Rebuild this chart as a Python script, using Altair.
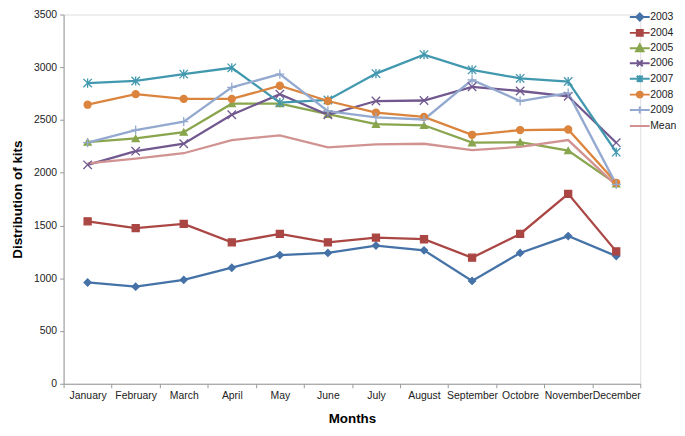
import altair as alt
import pandas as pd

months = ["January", "February", "March", "April", "May", "June", "July",
          "August", "September", "Octobre", "November", "December"]
series = ["2003", "2004", "2005", "2006", "2007", "2008", "2009", "Mean"]

y2003 = [960, 920, 985, 1100, 1220, 1240, 1310, 1265, 975, 1240, 1400, 1210]
y2004 = [1540, 1475, 1515, 1340, 1420, 1340, 1385, 1370, 1195, 1420, 1800, 1255]
y2005 = [2290, 2325, 2385, 2655, 2655, 2555, 2460, 2450, 2285, 2290, 2210, 1895]
y2006 = [2075, 2205, 2275, 2550, 2745, 2550, 2680, 2685, 2815, 2775, 2725, 2285]
y2007 = [2850, 2870, 2935, 2995, 2665, 2690, 2940, 3120, 2975, 2895, 2865, 2195]
y2008 = [2645, 2745, 2700, 2700, 2825, 2680, 2570, 2530, 2360, 2405, 2410, 1905]
y2009 = [2285, 2405, 2485, 2810, 2935, 2585, 2525, 2505, 2880, 2680, 2755, 1890]
ymean = [2090, 2135, 2185, 2310, 2355, 2240, 2270, 2275, 2215, 2245, 2310, 1880]

colors = ["#4572A7", "#AA4643", "#89A54E", "#71588F", "#4198AF", "#DB843D", "#93A9CF", "#D19392"]

# marker shapes drawn on the lines
marker_paths = [
    "diamond",
    "square",
    "triangle-up",
    "M-1.2,-1.2L1.2,1.2M-1.2,1.2L1.2,-1.2",
    "M-1.2,-1.2L1.2,1.2M-1.2,1.2L1.2,-1.2M0,-1.3L0,1.3",
    "circle",
    "M-1.3,0L1.3,0M0,-1.3L0,1.3",
    "M0,0",
]
# legend symbols: a line segment with the marker on it (solid markers built from strokes)
LN = "M-1.54,0L1.54,0"
legend_paths = [
    LN + "M-0.54,0L0,-0.54L0.54,0L0,0.54ZM-0.18,0L0,-0.18L0.18,0L0,0.18Z",
    LN + "M-0.46,-0.46L0.46,-0.46L0.46,0.46L-0.46,0.46ZM-0.15,-0.15L0.15,-0.15L0.15,0.15L-0.15,0.15Z",
    LN + "M0,-0.62L0.58,0.46L-0.58,0.46ZM0,-0.14L0.19,0.22L-0.19,0.22ZM0,-0.4L0,0.4",
    LN + "M-0.46,-0.46L0.46,0.46M-0.46,0.46L0.46,-0.46",
    LN + "M-0.46,-0.46L0.46,0.46M-0.46,0.46L0.46,-0.46M0,-0.54L0,0.54",
    LN + "M-0.46,0A0.46,0.46,0,1,1,0.46,0A0.46,0.46,0,1,1,-0.46,0ZM-0.15,0A0.15,0.15,0,1,1,0.15,0A0.15,0.15,0,1,1,-0.15,0Z",
    LN + "M0,-0.54L0,0.54",
    LN,
]

values = [y2003, y2004, y2005, y2006, y2007, y2008, y2009, ymean]
rows = []
for s, vals in zip(series, values):
    for m, v in zip(months, vals):
        rows.append({"Month": m, "Series": s, "Value": v})
df = pd.DataFrame(rows)

x_enc = alt.X("Month:N", sort=months,
              scale=alt.Scale(type="band", paddingInner=0, paddingOuter=0),
              axis=alt.Axis(title="Months", tickBand="extent", labelAngle=0,
                            labelOverlap=False, labelFontSize=10.5, labelPadding=3,
                            labelFont="Liberation Sans", labelColor="#222222",
                            tickColor="#999999", domainColor="#999999", tickSize=4,
                            titleFont="Liberation Sans", titleFontWeight="bold",
                            titleFontSize=13.5, titlePadding=11, titleColor="#000000",
                            grid=False))
y_enc = alt.Y("Value:Q", scale=alt.Scale(domain=[0, 3500]),
              axis=alt.Axis(title="Distribution of kits", values=list(range(0, 3501, 500)),
                            format="d", labelFontSize=10.5, labelFont="Liberation Sans",
                            labelColor="#222222", tickColor="#999999", labelPadding=3,
                            domainColor="#999999", tickSize=4, grid=False,
                            titleFont="Liberation Sans", titleFontWeight="bold",
                            titleFontSize=13.5, titlePadding=9, titleColor="#000000"))

stroke_scale = alt.Scale(domain=series, range=colors)

lines = alt.Chart(df).mark_line(strokeWidth=2.3).encode(
    x=x_enc, y=y_enc,
    stroke=alt.Stroke("Series:N", scale=stroke_scale, legend=None),
    detail="Series:N",
)

points = alt.Chart(df).transform_filter(alt.datum.Series != "Mean").mark_point(
    filled=True, opacity=1, strokeWidth=1.3, size=50
).encode(
    x=x_enc, y=y_enc,
    fill=alt.Fill("Series:N", scale=stroke_scale, legend=None),
    stroke=alt.Stroke("Series:N", scale=stroke_scale, legend=None),
    shape=alt.Shape("Series:N", scale=alt.Scale(domain=series, range=marker_paths), legend=None),
)

legend = alt.Legend(title=None, orient="none", legendX=573, legendY=-5,
                    labelFont="Liberation Sans", labelFontSize=10.5, labelColor="#222222",
                    symbolSize=169, symbolStrokeWidth=2, rowPadding=-0.4,
                    labelOffset=3, padding=0)

legend_layer = alt.Chart(df).transform_filter(alt.datum.Month == "January").mark_point(
    filled=False, opacity=0, size=10
).encode(
    x=x_enc, y=y_enc,
    stroke=alt.Stroke("Series:N", scale=stroke_scale, legend=legend),
    shape=alt.Shape("Series:N", scale=alt.Scale(domain=series, range=legend_paths), legend=legend),
)

chart = alt.layer(lines, points, legend_layer).resolve_scale(
    fill="independent", stroke="independent", shape="independent"
).properties(
    width=674, height=419,
    autosize=alt.AutoSizeParams(type="fit", contains="padding"),
    padding={"left": 2, "top": 0, "right": 36, "bottom": 0},
).configure_view(stroke=None).configure(background="white")

chart.save("out.html", embed_options={"renderer": "svg", "actions": False})
